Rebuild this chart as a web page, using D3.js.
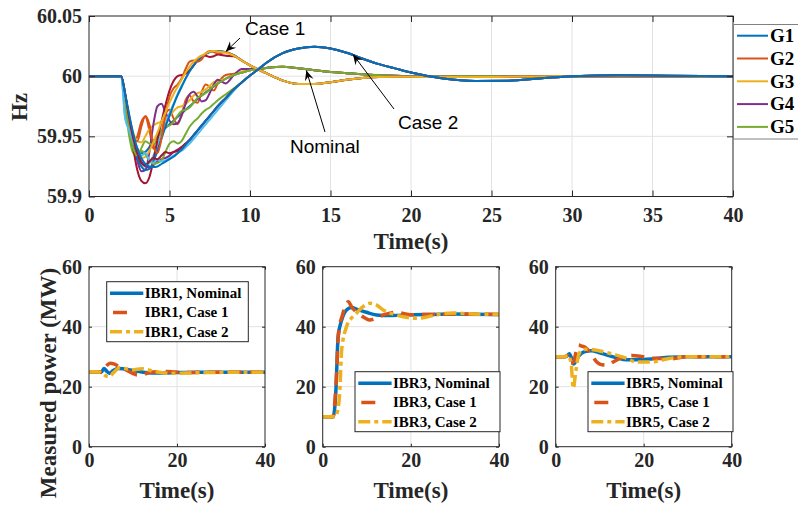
<!DOCTYPE html>
<html>
<head>
<meta charset="utf-8">
<script src="https://cdn.jsdelivr.net/npm/d3@7"></script>
<style>
  html, body { margin: 0; padding: 0; background: #fff; }
  svg { display: block; }
</style>
</head>
<body>
<svg id="chart" width="798" height="508"></svg>
<script>
// ---------- Frequency data (Hz) ----------
const earlyTime = [0, 1, 2, 2.25, 2.5, 2.75, 3, 3.25, 3.5, 3.75, 4, 4.25, 4.5, 4.75, 5, 5.25, 5.5, 5.75,
                   6, 6.25, 6.5, 6.75, 7, 7.25, 7.5, 7.75, 8, 8.5, 9, 9.5, 10];
const tailTime = [10.5, 11, 12, 13, 14, 15, 16, 17, 18, 19, 20, 22, 24, 26, 28, 30, 33, 36, 40];

// Nominal case, generators G1..G5
const nominalG1 = [60, 60, 60, 59.982, 59.964, 59.949, 59.940, 59.936, 59.937, 59.941, 59.946, 59.950, 59.954, 59.957, 59.960, 59.963, 59.966, 59.969, 59.972, 59.975, 59.978, 59.981, 59.984, 59.9865, 59.989, 59.9915, 59.994, 59.998, 60.001, 60.003, 60.005];
const nominalG2 = [60, 60, 60, 59.980, 59.958, 59.945, 59.950, 59.962, 59.966, 59.955, 59.940, 59.938, 59.952, 59.968, 59.972, 59.965, 59.960, 59.968, 59.980, 59.984, 59.979, 59.978, 59.987, 59.993, 59.991, 59.988, 59.994, 60.001, 60.002, 60.003, 60.005];
const nominalG3 = [60, 60, 60, 59.983, 59.966, 59.953, 59.946, 59.945, 59.950, 59.956, 59.959, 59.961, 59.962, 59.964, 59.967, 59.971, 59.974, 59.975, 59.977, 59.980, 59.984, 59.986, 59.987, 59.989, 59.992, 59.995, 59.996, 59.998, 60.001, 60.004, 60.005];
const nominalG4 = [60, 60, 60, 59.982, 59.962, 59.944, 59.930, 59.921, 59.922, 59.937, 59.960, 59.975, 59.977, 59.970, 59.963, 59.960, 59.961, 59.967, 59.977, 59.985, 59.987, 59.983, 59.979, 59.980, 59.986, 59.993, 59.997, 59.994, 60.001, 60.006, 60.006];
const nominalG5 = [60, 60, 60, 59.975, 59.950, 59.936, 59.934, 59.940, 59.946, 59.944, 59.943, 59.948, 59.955, 59.958, 59.959, 59.962, 59.967, 59.971, 59.972, 59.974, 59.978, 59.982, 59.984, 59.986, 59.989, 59.992, 59.994, 59.998, 60.001, 60.003, 60.005];
const nominalTail = [60.006, 60.0068, 60.0078, 60.0065, 60.005, 60.0035, 60.0025, 60.0015, 60.0008, 60.0003, 60.0, 59.9998, 60.0, 60.0, 60.0, 60.0, 60.0, 60.0, 60.0];

// Case 1, generators G1..G5
const case1G1 = [60, 60, 60, 59.965, 59.957, 59.944, 59.934, 59.928, 59.925, 59.928, 59.934, 59.942, 59.951, 59.960, 59.969, 59.977, 59.985, 59.992, 59.998, 60.004, 60.009, 60.013, 60.016, 60.0185, 60.020, 60.021, 60.021, 60.020, 60.0175, 60.013, 60.009];
const case1G2 = [60, 60, 60, 59.985, 59.962, 59.940, 59.922, 59.913, 59.911, 59.916, 59.930, 59.947, 59.962, 59.976, 59.988, 59.996, 60.000, 60.001, 60.002, 60.005, 60.009, 60.014, 60.017, 60.017, 60.016, 60.0165, 60.018, 60.017, 60.0165, 60.013, 60.009];
const case1G3 = [60, 60, 60, 59.983, 59.963, 59.945, 59.932, 59.925, 59.922, 59.923, 59.929, 59.938, 59.948, 59.958, 59.967, 59.976, 59.984, 59.991, 59.998, 60.004, 60.009, 60.013, 60.016, 60.0185, 60.020, 60.021, 60.021, 60.020, 60.0175, 60.013, 60.009];
const case1G4 = [60, 60, 60, 59.982, 59.960, 59.946, 59.946, 59.958, 59.967, 59.960, 59.943, 59.936, 59.948, 59.968, 59.983, 59.990, 59.993, 59.998, 60.006, 60.012, 60.013, 60.012, 60.014, 60.019, 60.021, 60.020, 60.019, 60.020, 60.017, 60.013, 60.009];
const case1G5 = [60, 60, 60, 59.983, 59.964, 59.948, 59.937, 59.932, 59.933, 59.938, 59.945, 59.953, 59.962, 59.970, 59.978, 59.985, 59.991, 59.997, 60.003, 60.008, 60.012, 60.015, 60.017, 60.019, 60.0205, 60.021, 60.0205, 60.0195, 60.017, 60.013, 60.009];
const case1Tail = [60.0056, 60.0025, 59.9965, 59.9935, 59.9935, 59.995, 59.997, 59.9985, 59.9993, 59.9995, 59.9995, 59.9993, 59.9993, 59.9995, 59.9998, 60.0, 60.0, 60.0, 60.0];

// Case 2, generators G1..G5
const case2G1 = [60, 60, 60, 59.984, 59.966, 59.950, 59.937, 59.929, 59.925, 59.924, 59.926, 59.929, 59.931, 59.932, 59.934, 59.937, 59.939, 59.941, 59.944, 59.947, 59.951, 59.955, 59.959, 59.963, 59.967, 59.971, 59.975, 59.982, 59.989, 59.995, 60.0005];
const case2G2 = [60, 60, 60, 59.975, 59.955, 59.940, 59.934, 59.938, 59.935, 59.930, 59.927, 59.928, 59.930, 59.937, 59.944, 59.946, 59.944, 59.946, 59.952, 59.958, 59.962, 59.965, 59.969, 59.972, 59.974, 59.977, 59.980, 59.985, 59.990, 59.995, 60.0005];
const case2G3 = [60, 60, 60, 59.965, 59.955, 59.945, 59.938, 59.934, 59.936, 59.930, 59.928, 59.931, 59.929, 59.930, 59.932, 59.934, 59.936, 59.938, 59.941, 59.944, 59.948, 59.952, 59.956, 59.960, 59.964, 59.968, 59.972, 59.980, 59.988, 59.995, 60.0005];
const case2G4 = [60, 60, 60, 59.985, 59.965, 59.948, 59.936, 59.928, 59.926, 59.929, 59.932, 59.931, 59.934, 59.937, 59.936, 59.937, 59.938, 59.941, 59.944, 59.947, 59.951, 59.955, 59.959, 59.963, 59.967, 59.971, 59.975, 59.982, 59.989, 59.995, 60.0005];
const case2G5 = [60, 60, 60, 59.985, 59.968, 59.952, 59.940, 59.932, 59.927, 59.925, 59.9245, 59.925, 59.927, 59.929, 59.931, 59.933, 59.936, 59.939, 59.943, 59.947, 59.951, 59.955, 59.959, 59.963, 59.967, 59.971, 59.975, 59.982, 59.989, 59.995, 60.0005];
const case2Tail = [60.0055, 60.011, 60.019, 60.023, 60.0245, 60.023, 60.0195, 60.0145, 60.010, 60.0065, 60.003, 59.998, 59.996, 59.9962, 59.998, 60.0, 60.0007, 60.0004, 60.0];

const genNames = ['G1', 'G2', 'G3', 'G4', 'G5'];
const freqTicks = [59.9, 59.95, 60, 60.05];
const timeTicksTop = [0, 5, 10, 15, 20, 25, 30, 35, 40];

// ---------- Measured IBR power (MW) ----------
const ibr1NominalT = [0, 2, 2.8, 3.4, 4, 4.7, 5.5, 6.7, 8, 10, 12, 14.3, 17, 20, 25, 30, 35, 40];
const ibr1NominalP = [25, 25, 24.8, 26.1, 25.2, 24.5, 25.4, 26.1, 25.9, 25.4, 24.9, 24.6, 24.6, 24.7, 24.8, 24.8, 24.8, 24.8];
const ibr1Case1T = [0, 2, 3, 4, 4.8, 5.8, 7, 8.5, 10, 11.1, 12.5, 14, 16, 17.6, 19.5, 22, 26, 30, 40];
const ibr1Case1P = [25, 25, 24.8, 27, 27.8, 27.5, 26.5, 25.5, 24.4, 23.9, 24.2, 24.8, 25.0, 25.1, 24.9, 24.7, 24.8, 24.8, 24.8];
const ibr1Case2T = [0, 2, 3, 3.8, 4.6, 5.5, 7, 8.5, 10, 12, 14, 16, 18, 20, 23, 27, 32, 40];
const ibr1Case2P = [25, 25, 24.5, 23.6, 23.3, 24.6, 26.3, 26.0, 25.6, 26.0, 25.4, 24.8, 24.5, 24.5, 24.6, 24.7, 24.8, 24.8];

const ibr3NominalT = [0, 2.4, 3.0, 3.5, 4.3, 5.4, 6.5, 8, 9.9, 12.2, 15, 20, 25, 30, 40];
const ibr3NominalP = [10, 10, 18.9, 36.7, 42.2, 45.6, 46.4, 45.7, 44.8, 43.9, 43.7, 44, 44.1, 44.2, 44.1];
const ibr3Case1T = [0, 2.3, 3.0, 3.6, 4.5, 5.3, 5.8, 6.6, 8, 9.5, 10.7, 12, 14, 16.4, 18, 20, 25, 30, 40];
const ibr3Case1P = [10, 10, 20, 38, 44, 47.5, 48.3, 46.5, 44.5, 43, 42.2, 42.8, 44, 44.8, 44.5, 44, 44.1, 44.2, 44.1];
const ibr3Case2T = [0, 2.8, 3.4, 3.9, 4.3, 5.4, 6.5, 7.6, 9, 10.7, 12, 13.7, 16, 18.3, 21.3, 23.5, 25.8, 29.6, 33, 40];
const ibr3Case2P = [10, 10, 12, 19, 32.2, 40, 42.8, 44.4, 46.5, 47.8, 47.4, 45.6, 44.2, 43.3, 42.8, 43.2, 44, 44.6, 44.3, 44.1];

const ibr5NominalT = [0, 2, 2.6, 3.1, 3.6, 4.1, 4.6, 5.2, 6.6, 8.1, 10, 11.5, 14, 16, 19.8, 22, 25.8, 30, 40];
const ibr5NominalP = [30, 30, 30.3, 31.0, 29.5, 27.6, 28.5, 30.1, 31.7, 32.0, 31.3, 30.6, 29.6, 29.0, 29.1, 29.3, 29.8, 30, 30];
const ibr5Case1T = [0, 2, 2.8, 3.5, 4.1, 4.6, 5.1, 5.8, 7, 8.2, 9.5, 10.5, 11.8, 13, 15, 17.3, 19.5, 22, 26, 30, 40];
const ibr5Case1P = [30, 30, 30.4, 27.8, 28.5, 31.5, 33.9, 33.6, 32.8, 30.5, 28, 27.3, 27.2, 28.2, 29.7, 30.4, 30.1, 29.5, 29.3, 30, 30];
const ibr5Case2T = [0, 2, 2.8, 3.5, 4.0, 4.6, 5.2, 6, 7, 9, 11.5, 13.6, 16, 18.2, 20, 22, 24.5, 27.3, 30, 40];
const ibr5Case2P = [30, 30, 30.5, 27.8, 19.5, 25.5, 30.5, 32.2, 32.5, 32.2, 31.4, 30.6, 29.5, 28.3, 28.2, 28.3, 29, 29.8, 30, 30];

const powerTicks = [0, 20, 40, 60];
const timeTicksBottom = [0, 20, 40];
const caseLabels = ['Nominal', 'Case 1', 'Case 2'];

// ---------- Styling ----------
const colorOrder = ['#0072BD', '#D95319', '#EDB120', '#7E2F8E', '#77AC30', '#4DBEEE', '#A2142F'];
const serif = "'Liberation Serif','Times New Roman',Times,serif";
const sans = "'Liberation Sans',Arial,Helvetica,sans-serif";
const axisColor = '#262626';
const gridColor = '#e2e2e2';

const svg = d3.select('#chart');

function zip(xs, ys) { return xs.map((x, i) => [x, ys[i]]); }

function drawGrid(x, y, xTicks, yTicks) {
  const [x0, x1] = x.range();
  const [y0, y1] = y.range();
  const g = svg.append('g');
  g.selectAll(null).data(xTicks.filter(d => x(d) > x0 + 1 && x(d) < x1 - 1)).join('line')
    .attr('x1', d => x(d)).attr('x2', d => x(d)).attr('y1', y0).attr('y2', y1)
    .attr('stroke', gridColor).attr('stroke-width', 1);
  g.selectAll(null).data(yTicks.filter(d => y(d) < y0 - 1 && y(d) > y1 + 1)).join('line')
    .attr('y1', d => y(d)).attr('y2', d => y(d)).attr('x1', x0).attr('x2', x1)
    .attr('stroke', gridColor).attr('stroke-width', 1);
}

function styleAxis(g) {
  g.select('.domain').remove();
  g.selectAll('.tick line').attr('stroke', axisColor).attr('stroke-width', 1);
  g.selectAll('.tick text').attr('fill', axisColor).attr('font-family', serif)
    .attr('font-weight', 'bold').attr('font-size', 20);
}

function drawFrame(x, y, xTicks, yTicks, fmtX, fmtY, tick, padX, padY) {
  const [x0, x1] = x.range();
  const [y0, y1] = y.range();
  svg.append('g').attr('transform', `translate(0,${y0})`)
    .call(d3.axisBottom(x).tickValues(xTicks).tickSize(-tick).tickSizeOuter(0).tickPadding(padX).tickFormat(fmtX))
    .call(styleAxis);
  svg.append('g').attr('transform', `translate(0,${y1})`)
    .call(d3.axisTop(x).tickValues(xTicks).tickSize(-tick).tickSizeOuter(0).tickFormat(''))
    .call(styleAxis);
  svg.append('g').attr('transform', `translate(${x0},0)`)
    .call(d3.axisLeft(y).tickValues(yTicks).tickSize(-tick).tickSizeOuter(0).tickPadding(padY).tickFormat(fmtY))
    .call(styleAxis);
  svg.append('g').attr('transform', `translate(${x1},0)`)
    .call(d3.axisRight(y).tickValues(yTicks).tickSize(-tick).tickSizeOuter(0).tickFormat(''))
    .call(styleAxis);
  svg.append('rect').attr('x', x0).attr('y', y1).attr('width', x1 - x0).attr('height', y0 - y1)
    .attr('fill', 'none').attr('stroke', axisColor).attr('stroke-width', 1);
}

function axisLabel(text, cx, cy, size, rotate) {
  svg.append('text')
    .attr('transform', `translate(${cx},${cy})` + (rotate ? ' rotate(-90)' : ''))
    .attr('text-anchor', 'middle').attr('dy', '0.35em')
    .attr('font-family', serif).attr('font-weight', 'bold').attr('font-size', size)
    .attr('fill', axisColor).text(text);
}

// ---------- Top: generator frequencies ----------
const xTop = d3.scaleLinear().domain([0, 40]).range([89, 733]);
const yTop = d3.scaleLinear().domain([59.9, 60.05]).range([196.5, 16]);

drawGrid(xTop, yTop, timeTicksTop, freqTicks);

const freqSeries = [
  nominalG1.concat(nominalTail), nominalG2.concat(nominalTail), nominalG3.concat(nominalTail),
  nominalG4.concat(nominalTail), nominalG5.concat(nominalTail),
  case1G1.concat(case1Tail), case1G2.concat(case1Tail), case1G3.concat(case1Tail),
  case1G4.concat(case1Tail), case1G5.concat(case1Tail),
  case2G1.concat(case2Tail), case2G2.concat(case2Tail), case2G3.concat(case2Tail),
  case2G4.concat(case2Tail), case2G5.concat(case2Tail)
];
const freqTime = earlyTime.concat(tailTime);

svg.append('clipPath').attr('id', 'clipTop').append('rect')
  .attr('x', 89).attr('y', 16).attr('width', 644).attr('height', 180.5);

const topLine = d3.line().x(d => xTop(d[0])).y(d => yTop(d[1])).curve(d3.curveMonotoneX);
svg.append('g').attr('clip-path', 'url(#clipTop)')
  .selectAll('path').data(freqSeries).join('path')
  .attr('d', v => topLine(zip(freqTime, v)))
  .attr('fill', 'none')
  .attr('stroke', (v, i) => colorOrder[i % colorOrder.length])
  .attr('stroke-width', 2)
  .attr('stroke-linejoin', 'round');

drawFrame(xTop, yTop, timeTicksTop, freqTicks, d3.format('d'), d => String(+d.toFixed(2)), 6, 11, 7);
axisLabel('Hz', 18.5, 107, 23, true);
axisLabel('Time(s)', 411, 241, 23, false);

// Annotations
function arrow(x1, y1, x2, y2) {
  const a = Math.atan2(y2 - y1, x2 - x1) * 180 / Math.PI;
  svg.append('line').attr('x1', x1).attr('y1', y1).attr('x2', x2).attr('y2', y2)
    .attr('stroke', '#000').attr('stroke-width', 1);
  svg.append('path').attr('d', 'M0,0 L-10,-4.5 L-6.5,0 L-10,4.5 Z')
    .attr('transform', `translate(${x2},${y2}) rotate(${a})`).attr('fill', '#000');
}
function note(text, x, y) {
  svg.append('text').attr('x', x).attr('y', y).attr('font-family', sans)
    .attr('font-size', 19).attr('fill', '#000').text(text);
}
arrow(240, 38, xTop(8.5), yTop(60.0205));
note('Case 1', 245, 35);
arrow(325, 132, xTop(13.5), yTop(60.0048));
note('Nominal', 290, 153);
arrow(394, 109, xTop(16.4), yTop(60.018));
note('Case 2', 398, 129);

// Legend (top right)
const legTop = svg.append('g');
legTop.append('rect').attr('x', 733.5).attr('y', 24.5).attr('width', 90).attr('height', 114.5)
  .attr('fill', '#fff').attr('stroke', '#808080').attr('stroke-width', 1);
genNames.forEach((name, i) => {
  const cy = 35.7 + i * 22.8;
  legTop.append('line').attr('x1', 737).attr('x2', 768).attr('y1', cy).attr('y2', cy)
    .attr('stroke', colorOrder[i]).attr('stroke-width', 2);
  legTop.append('text').attr('x', 770).attr('y', cy).attr('dy', '0.33em')
    .attr('font-family', serif).attr('font-weight', 'bold').attr('font-size', 19)
    .attr('fill', '#000').text(name);
});

// ---------- Bottom: IBR measured power ----------
const panelTop = 266.7, panelBottom = 446.7;
const panels = [
  { left: 89, right: 265, name: 'IBR1', legend: [106.7, 281.7, 141.6, 60],
    series: [[ibr1NominalT, ibr1NominalP], [ibr1Case1T, ibr1Case1P], [ibr1Case2T, ibr1Case2P]] },
  { left: 322.7, right: 499, name: 'IBR3', legend: [355, 371.7, 145, 60],
    series: [[ibr3NominalT, ibr3NominalP], [ibr3Case1T, ibr3Case1P], [ibr3Case2T, ibr3Case2P]] },
  { left: 555.7, right: 731.7, name: 'IBR5', legend: [588, 371.7, 145, 60],
    series: [[ibr5NominalT, ibr5NominalP], [ibr5Case1T, ibr5Case1P], [ibr5Case2T, ibr5Case2P]] }
];
const caseStyles = [
  { color: '#0072BD', dash: null },
  { color: '#D95319', dash: '13,8' },
  { color: '#EDB120', dash: '12,4,4,4' }
];

panels.forEach((p, pi) => {
  const x = d3.scaleLinear().domain([0, 40]).range([p.left, p.right]);
  const y = d3.scaleLinear().domain([0, 60]).range([panelBottom, panelTop]);
  drawGrid(x, y, timeTicksBottom, powerTicks);

  const clipId = 'clipP' + pi;
  svg.append('clipPath').attr('id', clipId).append('rect')
    .attr('x', p.left).attr('y', panelTop).attr('width', p.right - p.left).attr('height', panelBottom - panelTop);

  const line = d3.line().x(d => x(d[0])).y(d => y(d[1])).curve(d3.curveMonotoneX);
  const g = svg.append('g').attr('clip-path', `url(#${clipId})`);
  p.series.forEach(([t, v], si) => {
    g.append('path').attr('d', line(zip(t, v)))
      .attr('fill', 'none').attr('stroke', caseStyles[si].color)
      .attr('stroke-width', 3.5)
      .attr('stroke-dasharray', caseStyles[si].dash);
  });

  drawFrame(x, y, timeTicksBottom, powerTicks, d3.format('d'), d3.format('d'), 3, 6, 7);
  axisLabel('Time(s)', (p.left + p.right) / 2, 490, 23, false);

  // legend
  const [lx, ly, lw, lh] = p.legend;
  const lg = svg.append('g');
  lg.append('rect').attr('x', lx).attr('y', ly).attr('width', lw).attr('height', lh)
    .attr('fill', '#fff').attr('stroke', axisColor).attr('stroke-width', 1);
  caseLabels.forEach((c, ci) => {
    const cy = ly + 11.6 + ci * 19.2;
    const s = caseStyles[ci];
    lg.append('line').attr('x1', lx + 3.3).attr('x2', lx + 36.6).attr('y1', cy).attr('y2', cy)
      .attr('stroke', s.color).attr('stroke-width', 3.5)
      .attr('stroke-dasharray', ci === 1 ? '14,30' : s.dash)
      .attr('stroke-dashoffset', ci === 1 ? -3 : 0);
    lg.append('text').attr('x', lx + 38).attr('y', cy).attr('dy', '0.33em')
      .attr('font-family', serif).attr('font-weight', 'bold').attr('font-size', 15)
      .attr('fill', '#000').text(`${p.name}, ${c}`);
  });
});

axisLabel('Measured power (MW)', 47.5, 383, 23, true);
</script>
</body>
</html>
